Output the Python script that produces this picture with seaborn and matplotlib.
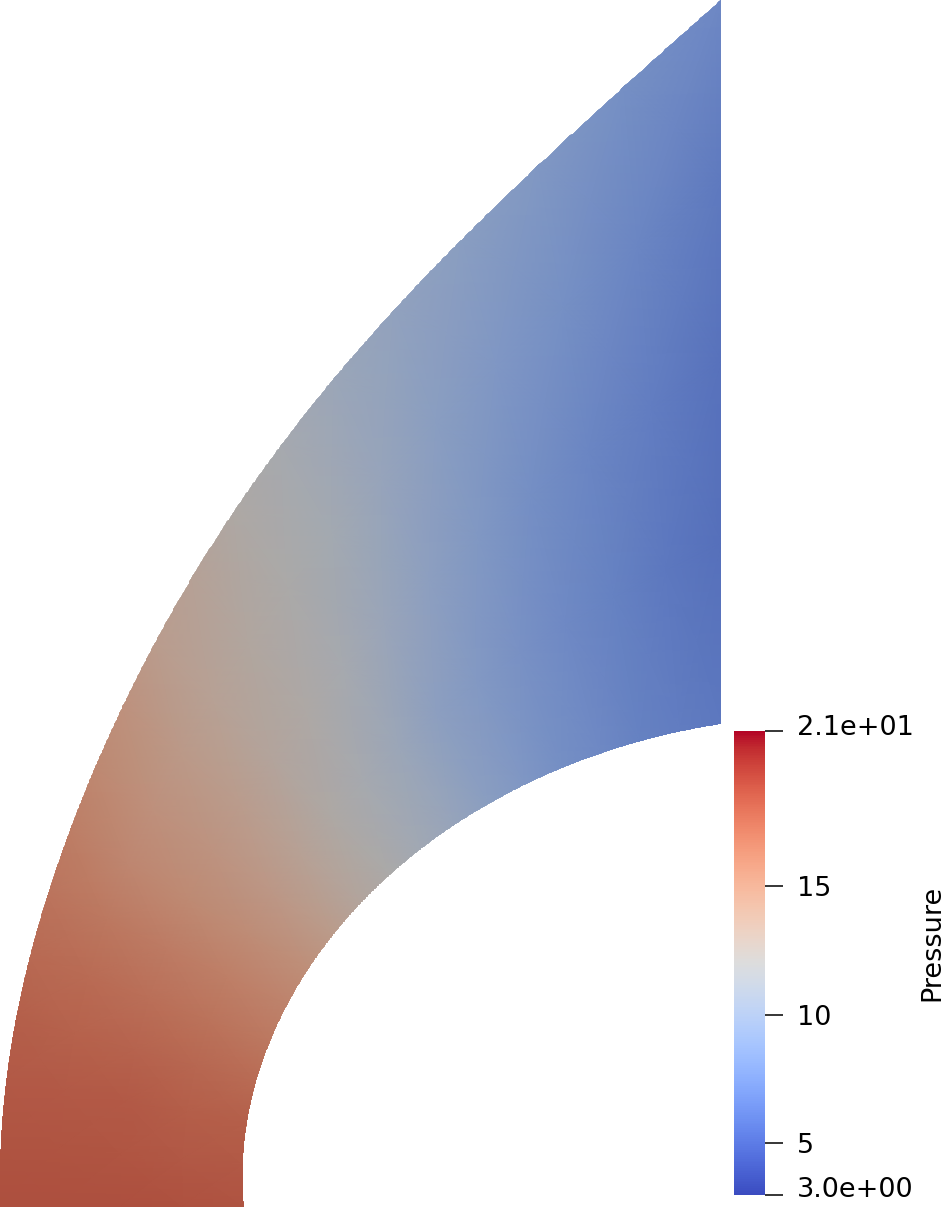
import numpy as np
import matplotlib
matplotlib.use("Agg")
import matplotlib.pyplot as plt
from matplotlib.colors import ListedColormap, Normalize
from matplotlib.path import Path
from matplotlib.transforms import ScaledTranslation
import seaborn as sns

sns.set_style("white")
plt.rcParams["font.family"] = ["DejaVu Sans"]

centre_x, centre_y = 721, 1207
inner_x = [721, 650, 630, 563, 497, 463, 430, 397, 363, 328, 308, 273, 253, 245, 244]
inner_y = [724, 735, 743, 770, 800, 820, 843, 870, 898, 940, 967, 1033, 1100, 1167, 1207]
outer_x = [721, 680, 640, 600, 567, 533, 500, 467, 433, 400, 363, 340, 317, 293,
           270, 213, 175, 140, 113, 90, 67, 45, 30, 18, 10, 5, 2, 0]
outer_y = [0, 37, 73, 107, 137, 170, 203, 237, 270, 302, 340, 370, 403, 433,
           460, 547, 600, 667, 727, 787, 847, 900, 950, 1000, 1050, 1100, 1150, 1207]

# sample grid: polar angle (deg) x fraction of the way from inner to outer wall
row_angles = [90, 95, 100, 105, 110, 115, 120, 125, 130, 135,
              140, 145, 150, 155, 160, 165, 170, 175, 180]
wall_frac = [0.0, 0.25, 0.5, 0.75, 1.0]

# pressure read at each grid node, one list per wall fraction
p_inner = [6.5, 6.8, 7.1, 7.7, 8.1, 8.8, 9.5, 10.4, 11.2, 12.1,
           12.9, 13.9, 14.9, 15.7, 16.4, 17.1, 17.7, 18.0, 18.3]
p_quarter = [6.0, 6.5, 7.1, 7.7, 8.3, 9.0, 9.7, 10.8, 11.6, 12.4,
             13.3, 14.2, 15.1, 16.0, 16.7, 17.3, 17.8, 18.1, 18.4]
p_mid = [6.1, 6.8, 7.4, 8.1, 8.9, 9.7, 10.6, 11.6, 12.3, 12.9,
         13.8, 14.6, 15.3, 16.2, 16.9, 17.5, 18.0, 18.2, 18.5]
p_three_quarter = [6.6, 7.4, 8.2, 8.8, 9.5, 10.4, 11.4, 12.1, 12.7, 13.3,
                   14.1, 14.8, 15.5, 16.4, 17.1, 17.6, 18.0, 18.3, 18.5]
p_outer = [7.6, 8.2, 8.9, 9.5, 10.1, 10.8, 11.6, 12.4, 13.2, 13.8,
           14.7, 15.4, 16.1, 16.6, 17.2, 17.7, 18.0, 18.3, 18.5]

p_min, p_max = 3.0, 21.0
tick_values = [3, 5, 10, 15, 21]
tick_labels = ["3.0e+00", "5", "10", "15", "2.1e+01"]


def wall_radius(xs, ys, angles, deg):
    # smooth r(theta) through the traced wall points so the edge has no kinks
    dx = np.asarray(xs, float) - centre_x
    dy = centre_y - np.asarray(ys, float)
    th = np.degrees(np.arctan2(dy, dx))
    w = np.ones_like(th)
    w[[0, -1]] = 20
    coef = np.polyfit((th - 135) / 45, np.hypot(dx, dy), deg, w=w)
    return np.polyval(coef, (np.asarray(angles) - 135) / 45)


def to_xy(r, a):
    t = np.radians(a)
    return centre_x + r * np.cos(t), centre_y - r * np.sin(t)


ang = np.asarray(row_angles, float)
r_in = wall_radius(inner_x, inner_y, ang, 4)
# push the outer nodes out a bit so the straight cell edges cover the curved
# wall; the smooth outline below clips everything back to the true shape
half_step = np.radians(np.diff(ang).max() / 2)
r_out = wall_radius(outer_x, outer_y, ang, 6) / np.cos(half_step) + 2
frac = np.asarray(wall_frac)
R = r_in[:, None] + frac[None, :] * (r_out - r_in)[:, None]
X, Y = to_xy(R, ang[:, None])
P = np.column_stack([p_inner, p_quarter, p_mid, p_three_quarter, p_outer])

fine = np.linspace(90, 180, 721)
ox, oy = to_xy(wall_radius(outer_x, outer_y, fine, 6), fine)
ix, iy = to_xy(wall_radius(inner_x, inner_y, fine, 4), fine)
outline = Path(np.column_stack([np.r_[ox, ix[::-1], ox[:1]],
                                np.r_[oy, iy[::-1], oy[:1]]]), closed=True)

base = sns.color_palette("coolwarm", as_cmap=True)
# the surface in the render is lit, so its colours come out darker than the bar
lit = base(np.linspace(0, 1, 256))
lit[:, :3] *= 0.77
lit_cmap = ListedColormap(lit)
norm = Normalize(p_min, p_max)

fig = plt.figure(figsize=(9.45, 12.08), dpi=100)
ax = fig.add_axes([0, 0, 1, 1])
# drawn a few times over so the seams between gouraud triangles close up
for _ in range(3):
    mesh = ax.pcolormesh(X, Y, P, shading="gouraud", cmap=lit_cmap, norm=norm)
    mesh.set_clip_path(outline, ax.transData)
ax.set_xlim(0, 945)
ax.set_ylim(1208, 0)
ax.set_aspect("auto")
ax.axis("off")

cax = fig.add_axes([734 / 945, 1 - 1195 / 1208, 31 / 945, 464 / 1208])
sm = plt.cm.ScalarMappable(norm=norm, cmap=base)
cb = fig.colorbar(sm, cax=cax, ticks=tick_values)
cb.ax.set_yticklabels(tick_labels)
cb.outline.set_visible(False)
cax.tick_params(direction="out", length=13, width=1.1, pad=10,
                labelsize=19.5, colors="black")

# the end labels sit a little above their ticks, as in the original
labels = cax.get_yticklabels()
for lab, dy in ((labels[0], 6), (labels[-1], 4)):
    lab.set_transform(lab.get_transform()
                      + ScaledTranslation(0, dy / 72, fig.dpi_scale_trans))

fig.text(932 / 945, 1 - 943 / 1208, "Pressure", rotation=90,
         ha="center", va="center", fontsize=19.5, color="black")

fig.savefig("out.png", dpi=100, facecolor="white")
